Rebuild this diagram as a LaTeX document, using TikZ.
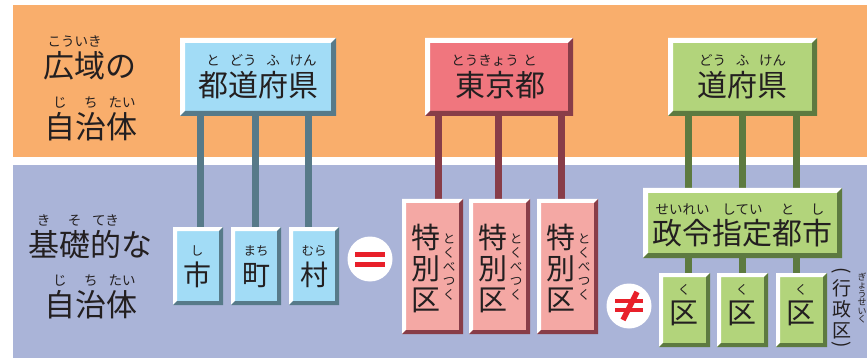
\documentclass[tikz,border=0pt]{standalone}
\usepackage{fontspec}
\setmainfont{Noto Sans CJK JP}
\usetikzlibrary{backgrounds}
\definecolor{bandorange}{HTML}{F9AE6C}
\definecolor{bandblue}{HTML}{AAB4D8}
\definecolor{boxblue}{HTML}{A2DCF6}
\definecolor{postblue}{HTML}{577A89}
\definecolor{boxred}{HTML}{F0767E}
\definecolor{boxpink}{HTML}{F4A8A4}
\definecolor{postred}{HTML}{883D48}
\definecolor{boxgreen}{HTML}{B2D47B}
\definecolor{postgreen}{HTML}{5D7A40}
\definecolor{txtc}{HTML}{231F20}
\definecolor{signred}{HTML}{E8202A}
\def\rbr{31pt}\def\rbs{13.5}
\newcommand\rb[2]{\ooalign{#1\cr\hidewidth\raisebox{\rbr}{\fontsize{\rbs}{\rbs}\selectfont #2}\hidewidth\cr}}
\begin{document}
\begin{tikzpicture}[x=1pt,y=-1pt,
  bev/.style n args={3}{draw=none, inner sep=0, fill=#1, path picture={
    \fill[white] (path picture bounding box.north west) -- (path picture bounding box.north east)
      -- ([xshift=-#3,yshift=-#3]path picture bounding box.north east)
      -- ([xshift=#3,yshift=-#3]path picture bounding box.north west)
      -- ([xshift=#3,yshift=#3]path picture bounding box.south west)
      -- (path picture bounding box.south west) -- cycle;
    \fill[#2] (path picture bounding box.north east) -- (path picture bounding box.south east)
      -- (path picture bounding box.south west)
      -- ([xshift=#3,yshift=#3]path picture bounding box.south west)
      -- ([xshift=-#3,yshift=#3]path picture bounding box.south east)
      -- ([xshift=-#3,yshift=-#3]path picture bounding box.north east) -- cycle;}},
  txt/.style={inner sep=0, anchor=base, text=txtc},
  lbl/.style={txt, font=\fontsize{31}{31}\selectfont\def\rbr{31pt}\def\rbs{13.5}},
  big/.style={txt, font=\fontsize{30}{30}\selectfont\def\rbr{31pt}\def\rbs{13.5}},
  small/.style={txt, font=\fontsize{28}{28}\selectfont\def\rbr{30pt}\def\rbs{12.5}},
  vt/.style={inner sep=0, align=center, text=txtc, font=\fontsize{29}{31}\selectfont},
  vr/.style={inner sep=0, align=center, text=txtc, font=\fontsize{12.5}{14}\selectfont},
  post/.style={line width=7pt, draw=#1},
  sign/.style={circle, fill=white, minimum size=45pt, inner sep=0}
]
\useasboundingbox (0,0) rectangle (867,358);

% left labels
\node[lbl] (l1) at (90,78) {\rb{広域}{こういき}の};
\node[lbl] (l2) at (91,138.5) {\rb{自}{じ}\rb{治}{ち}\rb{体}{たい}};
\node[lbl] (l3) at (90,256.5) {\rb{基}{き}\rb{礎}{そ}\rb{的}{てき}な};
\node[lbl] (l4) at (91,316.5) {\rb{自}{じ}\rb{治}{ち}\rb{体}{たい}};

% top boxes
\node[bev={boxblue}{postblue}{5pt}, minimum width=156pt, minimum height=78pt] (tdfk) at (258,77) {};
\node[big] (tdfkT) at (258,96.5) {\rb{都}{と}\rb{道}{どう}\rb{府}{ふ}\rb{県}{けん}};
\node[bev={boxred}{postred}{5pt}, minimum width=148pt, minimum height=78pt] (tokyo) at (499,77) {};
\node[big] (tokyoT) at (500,96.5) {\rb{東京}{とうきょう}\rb{都}{と}};
\node[bev={boxgreen}{postgreen}{5pt}, minimum width=149pt, minimum height=78pt] (dfk) at (742.5,77) {};
\node[big] (dfkT) at (742.5,96.5) {\rb{道}{どう}\rb{府}{ふ}\rb{県}{けん}};

% municipalities
\node[bev={boxblue}{postblue}{4pt}, minimum width=50pt, minimum height=78pt] (shi) at (198,266) {};
\node[bev={boxblue}{postblue}{4pt}, minimum width=50pt, minimum height=78pt] (machi) at (256,266) {};
\node[bev={boxblue}{postblue}{4pt}, minimum width=50pt, minimum height=78pt] (mura) at (314,266) {};
\node[small] (shiT) at (197,285.5) {\rb{市}{し}};
\node[small] (machiT) at (256,285.5) {\rb{町}{まち}};
\node[small] (muraT) at (314,285.5) {\rb{村}{むら}};

% special wards
\node[bev={boxpink}{postred}{4pt}, minimum width=61pt, minimum height=135pt] (tk1) at (432.5,266.5) {};
\node[bev={boxpink}{postred}{4pt}, minimum width=61pt, minimum height=135pt] (tk2) at (499.5,266.5) {};
\node[bev={boxpink}{postred}{4pt}, minimum width=61pt, minimum height=135pt] (tk3) at (567.5,266.5) {};
\node[vt] (tk1T) at (426,268) {特\\別\\区};
\node[vr] (tk1R) at (449,267) {と\\く\\べ\\つ\\く};
\node[vt] (tk2T) at (493,268) {特\\別\\区};
\node[vr] (tk2R) at (516,267) {と\\く\\べ\\つ\\く};
\node[vt] (tk3T) at (561,268) {特\\別\\区};
\node[vr] (tk3R) at (584,267) {と\\く\\べ\\つ\\く};

% designated city
\node[bev={boxgreen}{postgreen}{5pt}, minimum width=199pt, minimum height=70pt] (seirei) at (742.5,223) {};
\node[big] (seireiT) at (742.5,244.5) {\def\rbr{30pt}\rb{政令}{せいれい}\rb{指定}{してい}\rb{都}{と}\rb{市}{し}};
\node[bev={boxgreen}{postgreen}{4pt}, minimum width=51pt, minimum height=74pt] (ku1) at (684.5,310) {};
\node[bev={boxgreen}{postgreen}{4pt}, minimum width=51pt, minimum height=74pt] (ku2) at (742.5,310) {};
\node[bev={boxgreen}{postgreen}{4pt}, minimum width=51pt, minimum height=74pt] (ku3) at (801.5,310) {};
\node[small, font=\fontsize{29}{29}\selectfont\def\rbr{29pt}\def\rbs{12.5}] (ku1T) at (684,323.5) {\rb{区}{く}};
\node[small, font=\fontsize{29}{29}\selectfont\def\rbr{29pt}\def\rbs{12.5}] (ku2T) at (742,323.5) {\rb{区}{く}};
\node[small, font=\fontsize{29}{29}\selectfont\def\rbr{29pt}\def\rbs{12.5}] (ku3T) at (801,323.5) {\rb{区}{く}};

% (gyoseiku)
\node[inner sep=0, text=txtc, font=\fontsize{19}{19}\selectfont] (gp1) at (841.5,272) {\rotatebox[origin=c]{-90}{(}};
\node[inner sep=0, align=center, text=txtc, font=\fontsize{19}{21}\selectfont] (gk) at (841.5,309) {行\\政\\区};
\node[inner sep=0, text=txtc, font=\fontsize{19}{19}\selectfont] (gp2) at (841.5,346) {\rotatebox[origin=c]{-90}{)}};
\node[inner sep=0, align=center, text=txtc, font=\fontsize{9}{8.5}\selectfont] (gkR) at (862,298) {ぎ\\ょ\\う\\せ\\い\\く};

% signs
\node[sign] (eq) at (370,259) {};
\fill[signred] ([xshift=-15pt,yshift=7pt]eq.center) rectangle ([xshift=15pt,yshift=2pt]eq.center);
\fill[signred] ([xshift=-15pt,yshift=-3pt]eq.center) rectangle ([xshift=15pt,yshift=-8pt]eq.center);
\node[sign] (neq) at (629,306) {};
\fill[signred] ([xshift=-14pt,yshift=7.5pt]neq.center) rectangle ([xshift=14pt,yshift=3pt]neq.center);
\fill[signred] ([xshift=-14pt,yshift=-1.5pt]neq.center) rectangle ([xshift=14pt,yshift=-6pt]neq.center);
\draw[signred, line width=5.5pt] ([xshift=8pt,yshift=14pt]neq.center) -- ([xshift=-6pt,yshift=-14pt]neq.center);

% post anchor coordinates
\coordinate (pb1) at ([xshift=2pt]shi.center);
\coordinate (pb2) at ([xshift=-1pt]machi.center);
\coordinate (pb3) at ([xshift=-6pt]mura.center);
\coordinate (pr1) at ([xshift=5.5pt]tk1.center);
\coordinate (pr2) at ([xshift=-1.5pt]tk2.center);
\coordinate (pr3) at ([xshift=-6.5pt]tk3.center);
\coordinate (pg1) at ([xshift=3.5pt]ku1.center);
\coordinate (pg2) at ([xshift=0pt]ku2.center);
\coordinate (pg3) at ([xshift=-5pt]ku3.center);

\begin{scope}[on background layer]
  \fill[white] (0,0) rectangle (867,358);
  \fill[bandorange] (13,5) rectangle (867,157);
  \fill[bandblue] (13,165) rectangle (867,358);
  \draw[post=postblue] (pb1 |- tdfk.center) -- (pb1);
  \draw[post=postblue] (pb2 |- tdfk.center) -- (pb2);
  \draw[post=postblue] (pb3 |- tdfk.center) -- (pb3);
  \draw[post=postred] (pr1 |- tokyo.center) -- (pr1);
  \draw[post=postred] (pr2 |- tokyo.center) -- (pr2);
  \draw[post=postred] (pr3 |- tokyo.center) -- (pr3);
  \draw[post=postgreen] (pg1 |- dfk.center) -- (pg1);
  \draw[post=postgreen] (pg2 |- dfk.center) -- (pg2);
  \draw[post=postgreen] (pg3 |- dfk.center) -- (pg3);
\end{scope}
\end{tikzpicture}
\end{document}
